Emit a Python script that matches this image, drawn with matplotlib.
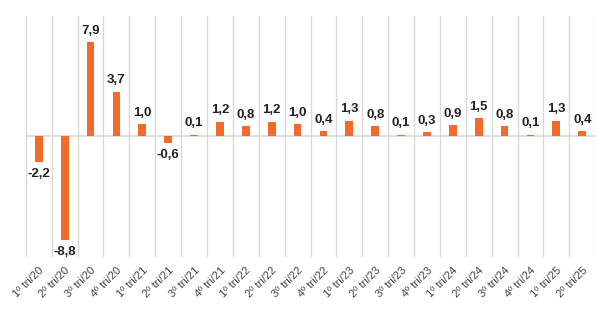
import matplotlib.pyplot as plt
import numpy as np

trimestres = ['1º tri/20', '2º tri/20', '3º tri/20', '4º tri/20',
              '1º tri/21', '2º tri/21', '3º tri/21', '4º tri/21',
              '1º tri/22', '2º tri/22', '3º tri/22', '4º tri/22',
              '1º tri/23', '2º tri/23', '3º tri/23', '4º tri/23',
              '1º tri/24', '2º tri/24', '3º tri/24', '4º tri/24',
              '1º tri/25', '2º tri/25']
variacao = [-2.2, -8.8, 7.9, 3.7, 1.0, -0.6, 0.1, 1.2, 0.8, 1.2, 1.0, 0.4,
            1.3, 0.8, 0.1, 0.3, 0.9, 1.5, 0.8, 0.1, 1.3, 0.4]

LARANJA = '#F26B2A'
CINZA = '#D9D9D9'

plt.rcParams['font.family'] = ['Liberation Sans', 'DejaVu Sans']

fig = plt.figure(figsize=(6, 3.22), dpi=100)
ax = fig.add_axes([0.043, 0.202, 0.949, 0.748])

x = np.arange(len(trimestres))
ax.bar(x, variacao, width=0.3, color=LARANJA, zorder=3)

ax.set_xlim(-0.5, len(trimestres) - 0.5)
ax.set_ylim(-10.2, 10.1)

# linhas verticais separando os trimestres
for b in np.arange(-0.5, len(trimestres) + 0.5, 1):
    ax.axvline(b, color=CINZA, lw=1, zorder=1)
ax.axhline(0, color=CINZA, lw=1.2, zorder=2)

for xi, v in zip(x, variacao):
    txt = f'{v:.1f}'.replace('.', ',')
    if v >= 0:
        ax.annotate(txt, (xi, v), xytext=(0, 4), textcoords='offset points',
                    ha='center', va='bottom', fontsize=9.5, fontweight='bold',
                    color='#222222')
    else:
        ax.annotate(txt, (xi, v), xytext=(0, -4), textcoords='offset points',
                    ha='center', va='top', fontsize=9.5, fontweight='bold',
                    color='#222222')

ax.set_xticks(x)
ax.set_xticklabels(trimestres, rotation=45, ha='right', rotation_mode='anchor',
                   fontsize=8, color='#444444')
ax.tick_params(axis='x', length=0, pad=6)
ax.set_yticks([])
for s in ax.spines.values():
    s.set_visible(False)

fig.savefig('out.png', dpi=100)
